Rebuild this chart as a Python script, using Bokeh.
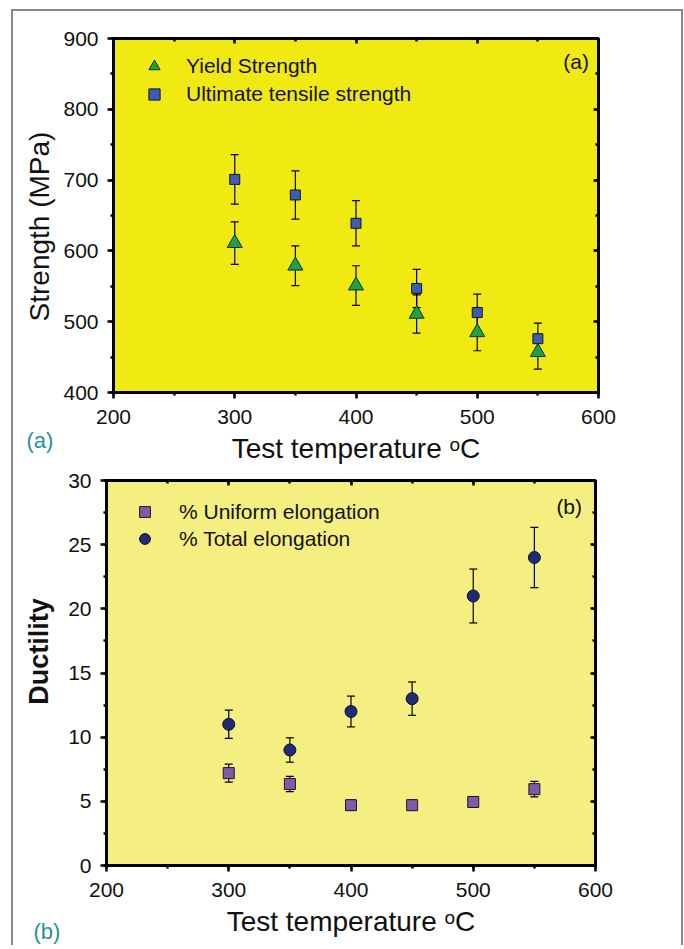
import math
from bokeh.plotting import figure
from bokeh.models import (LinearAxis, Range1d, Whisker, ColumnDataSource, Legend,
                          LegendItem, Label, SingleIntervalTicker,
                          CustomJSTickFormatter)
from bokeh.layouts import column, row
from bokeh.embed import file_html
from bokeh.resources import INLINE

# ---------------- data ----------------
temps = [300, 350, 400, 450, 500, 550]
yield_strength = [611, 579, 551, 511, 485, 457]
yield_err = [30, 28, 28, 27, 26, 24]
uts = [701, 679, 639, 547, 513, 476]
uts_err = [35, 34, 32, 27, 26, 22]
uniform_el = [7.2, 6.35, 4.7, 4.7, 4.95, 5.95]
uniform_err = [0.7, 0.6, 0.4, 0.4, 0.4, 0.6]
total_el = [11.0, 9.0, 12.0, 13.0, 21.0, 24.0]
total_err = [1.1, 0.95, 1.2, 1.3, 2.1, 2.35]

x_label = "Test temperature \u1d52C"
FONT = "Liberation Sans"
TEAL = "#2a8fa0"


def make_src(y, e):
    return ColumnDataSource(dict(x=temps, y=y,
                                 lo=[a - b for a, b in zip(y, e)],
                                 hi=[a + b for a, b in zip(y, e)]))


def style_axes(p, xint, yint):
    p.xaxis.ticker = SingleIntervalTicker(interval=xint, num_minor_ticks=2)
    p.yaxis.ticker = SingleIntervalTicker(interval=yint, num_minor_ticks=2)
    top = LinearAxis(ticker=SingleIntervalTicker(interval=xint, num_minor_ticks=2),
                     formatter=CustomJSTickFormatter(code="return ''"))
    right = LinearAxis(ticker=SingleIntervalTicker(interval=yint, num_minor_ticks=2),
                       formatter=CustomJSTickFormatter(code="return ''"))
    p.add_layout(top, "above")
    p.add_layout(right, "right")
    for ax in (top, right):
        ax.major_tick_in = 5
        ax.major_tick_out = 0
        ax.minor_tick_in = 3
        ax.minor_tick_out = 0
        ax.major_label_standoff = 0
    for ax in p.xaxis + p.yaxis:
        ax.axis_line_width = 3
        ax.axis_line_color = "black"
        ax.major_tick_line_width = 2.5
        ax.minor_tick_line_width = 2.5
        ax.major_tick_line_color = "black"
        ax.minor_tick_line_color = "black"
    for ax in (p.below[0], p.left[0]):
        ax.major_tick_out = 6
        ax.major_tick_in = 0
        ax.minor_tick_out = 3
        ax.minor_tick_in = 0
        ax.major_label_text_font = FONT
        ax.major_label_text_font_size = "21px"
        ax.major_label_text_color = "#111111"
        ax.major_label_standoff = 9
        ax.axis_label_text_font = FONT
        ax.axis_label_text_font_style = "normal"
        ax.axis_label_text_color = "#111111"
        ax.axis_label_text_font_size = "28px"
        ax.axis_label_standoff = 6
    p.below[0].major_label_standoff = 11
    p.xgrid.visible = False
    p.ygrid.visible = False
    p.outline_line_color = "black"
    p.outline_line_width = 3


def add_errors(p, s):
    w = Whisker(source=s, base="x", lower="lo", upper="hi",
                line_color="black", line_width=1.2, level="underlay")
    w.upper_head.size = 8
    w.lower_head.size = 8
    w.upper_head.line_width = 1.2
    w.lower_head.line_width = 1.2
    p.add_layout(w)


def side_strip(w, h):
    # narrow blank canvas on the left that carries the y title and the panel tag
    s = figure(width=w, height=h, output_backend="svg", toolbar_location=None,
               x_range=Range1d(0, w), y_range=Range1d(0, h),
               x_axis_location=None, y_axis_location=None,
               min_border_left=0, min_border_right=0, min_border_top=0,
               min_border_bottom=0)
    s.outline_line_color = None
    s.background_fill_color = "white"
    s.border_fill_color = "white"
    s.grid.visible = False
    return s


# ---------------- panel (a) ----------------
H1 = 455
p1 = figure(width=623, height=H1, output_backend="svg", toolbar_location=None,
            x_range=Range1d(200, 600), y_range=Range1d(400, 900),
            min_border_left=55, min_border_right=83, min_border_top=27,
            min_border_bottom=74)
p1.background_fill_color = "#f1e912"
p1.border_fill_color = "white"
p1.xaxis.axis_label = x_label
style_axes(p1, 100, 100)

s_y = make_src(yield_strength, yield_err)
s_u = make_src(uts, uts_err)
add_errors(p1, s_y)
add_errors(p1, s_u)

r_y = p1.scatter("x", "y", source=s_y, marker="triangle", size=15,
                 fill_color="#1fa04e", line_color="#103020", line_width=1)
r_u = p1.scatter("x", "y", source=s_u, marker="square", size=10,
                 fill_color="#3d5cb5", line_color="#101830", line_width=1)

leg1 = Legend(items=[LegendItem(label="Yield Strength", renderers=[r_y]),
                     LegendItem(label="Ultimate tensile strength", renderers=[r_u])],
              location="top_left", margin=14, padding=0, spacing=0,
              glyph_width=54, glyph_height=28, label_height=28, label_standoff=5,
              label_text_font=FONT, label_text_font_size="21px",
              label_text_color="#111111",
              background_fill_alpha=0, border_line_alpha=0)
p1.add_layout(leg1)
p1.add_layout(Label(x=571, y=884, text="(a)", text_font=FONT, text_font_size="21px",
                    text_baseline="top", text_color="#111111"))

st1 = side_strip(45, H1)
st1.add_layout(Label(x=26, y=240, text="Strength (MPa)", angle=math.pi / 2,
                     text_align="center", text_baseline="middle",
                     text_font=FONT, text_font_size="28px", text_color="#111111"))
st1.add_layout(Label(x=13, y=26, text="(a)", text_align="left",
                     text_baseline="middle", text_font=FONT,
                     text_font_size="22px", text_color=TEAL))

# ---------------- panel (b) ----------------
H2 = 479
p2 = figure(width=616, height=H2, output_backend="svg", toolbar_location=None,
            x_range=Range1d(200, 600), y_range=Range1d(0, 30),
            min_border_left=40, min_border_right=86, min_border_top=14,
            min_border_bottom=80)
p2.background_fill_color = "#f5ee80"
p2.border_fill_color = "white"
p2.xaxis.axis_label = x_label
style_axes(p2, 100, 5)
p2.xaxis[0].axis_label_standoff = 9

s_ue = make_src(uniform_el, uniform_err)
s_te = make_src(total_el, total_err)
add_errors(p2, s_ue)
add_errors(p2, s_te)

r_ue = p2.scatter("x", "y", source=s_ue, marker="square", size=11,
                  fill_color="#7d5ba8", line_color="#201530", line_width=1)
r_te = p2.scatter("x", "y", source=s_te, marker="circle", size=12,
                  fill_color="#1f2a78", line_color="#0a0f30", line_width=1)

leg2 = Legend(items=[LegendItem(label="% Uniform elongation", renderers=[r_ue]),
                     LegendItem(label="% Total elongation", renderers=[r_te])],
              location="top_left", margin=18, padding=0, spacing=0,
              glyph_width=41, glyph_height=27, label_height=27, label_standoff=14,
              label_text_font=FONT, label_text_font_size="21px",
              label_text_color="#111111",
              background_fill_alpha=0, border_line_alpha=0)
p2.add_layout(leg2)
p2.add_layout(Label(x=568, y=28.9, text="(b)", text_font=FONT, text_font_size="21px",
                    text_baseline="top", text_color="#111111"))

st2 = side_strip(52, H2)
st2.add_layout(Label(x=25, y=294, text="Ductility", angle=math.pi / 2,
                     text_align="center", text_baseline="middle",
                     text_font=FONT, text_font_style="bold",
                     text_font_size="27px", text_color="#111111"))
st2.add_layout(Label(x=20, y=14, text="(b)", text_align="left",
                     text_baseline="middle", text_font=FONT,
                     text_font_size="22px", text_color=TEAL))

layout = column(row(column(st1), column(p1), spacing=0),
                row(column(st2), column(p2), spacing=0),
                spacing=0,
                styles={"border-left": "2px solid #888888",
                        "border-top": "2px solid #888888",
                        "border-right": "2px solid #888888",
                        "margin-left": "11px", "margin-top": "9px"})

open("out.html", "w").write(file_html(layout, INLINE))
